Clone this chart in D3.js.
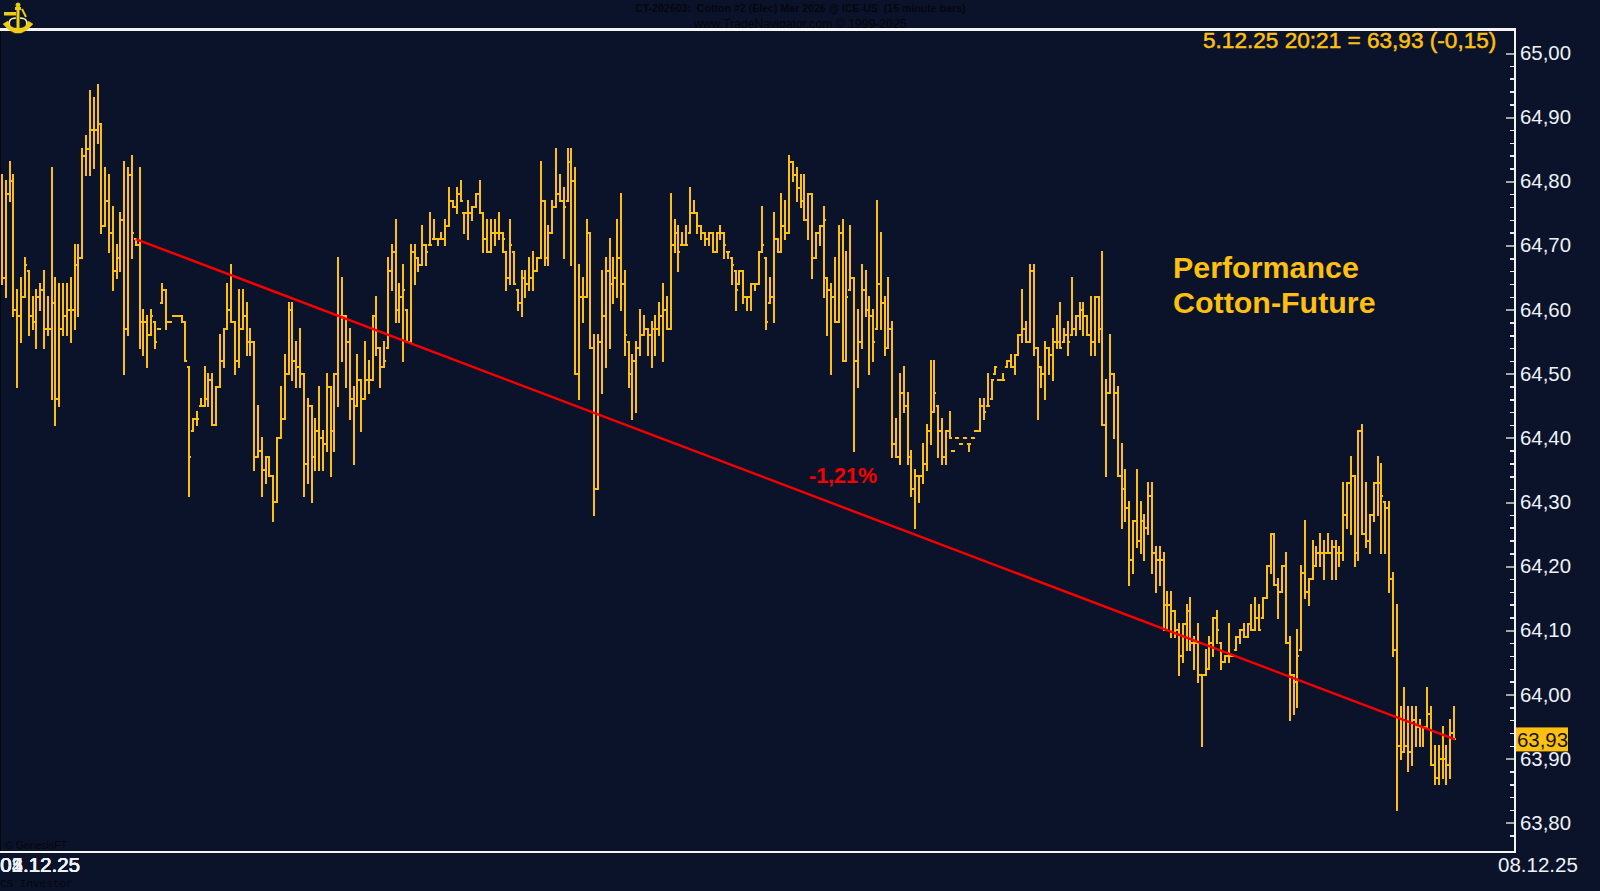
<!DOCTYPE html>
<html>
<head>
<meta charset="utf-8">
<title>Cotton-Future</title>
<script src="https://d3js.org/d3.v7.min.js"></script>
<style>
html, body { margin: 0; padding: 0; background: #0b132b; overflow: hidden; }
svg { display: block; font-family: "Liberation Sans", Arial, sans-serif; }
text { white-space: pre; }
</style>
</head>
<body>
<svg id="chart" width="1600" height="891"></svg>
<script>
/* 15 minute bars */
var highs = [
64.81,64.80,64.83,64.81,64.63,64.65,64.68,64.66,64.62,64.63,
64.64,64.66,64.62,64.82,64.65,64.64,64.64,64.64,64.65,64.70,
64.70,64.85,64.87,64.94,64.93,64.95,64.89,64.82,64.81,64.76,
64.70,64.75,64.83,64.82,64.84,64.71,64.82,64.60,64.59,64.60,
64.58,64.57,64.64,64.63,64.58,64.59,64.59,64.59,64.58,64.51,
64.43,64.44,64.46,64.51,64.50,64.50,64.48,64.56,64.57,64.64,
64.67,64.58,64.63,64.63,64.61,64.57,64.55,64.45,64.40,64.37,
64.37,64.34,64.40,64.48,64.53,64.61,64.61,64.55,64.57,64.50,
64.46,64.45,64.43,64.48,64.41,64.50,64.48,64.50,64.68,64.65,
64.59,64.57,64.48,64.53,64.49,64.55,64.52,64.59,64.62,64.54,
64.55,64.68,64.70,64.74,64.64,
64.67,64.60,64.70,64.70,64.68,
64.73,64.70,64.75,64.74,64.71,64.72,64.74,64.79,64.77,64.79,
64.80,64.75,64.77,64.76,64.78,64.80,64.75,64.74,64.74,64.74,
64.75,64.72,64.69,64.74,64.69,64.63,64.66,64.66,64.68,64.69,
64.68,64.83,64.77,64.73,64.77,64.85,64.81,64.79,64.85,64.85,
64.82,64.67,64.65,64.74,64.72,64.56,64.56,64.66,64.68,64.71,
64.68,64.74,64.78,64.66,64.55,64.53,64.55,64.60,64.59,64.57,
64.58,64.59,64.61,64.64,64.62,64.78,64.74,64.73,64.72,64.73,
64.79,64.77,64.75,64.73,64.72,64.72,64.72,64.72,64.73,64.72,
64.69,64.68,64.66,64.66,64.66,64.62,64.64,64.64,64.69,64.76,
64.68,64.65,64.75,64.71,64.78,64.77,64.84,64.83,64.82,64.81,
64.81,64.78,64.78,64.72,64.73,64.76,64.65,64.64,64.68,64.73,
64.74,64.69,64.73,64.65,64.60,64.67,64.66,64.62,64.60,64.77,
64.72,64.62,64.65,64.58,64.43,64.50,64.51,64.47,64.38,64.35,
64.34,64.39,64.42,64.52,64.52,64.45,64.43,64.41,64.44,64.38,
64.40,64.39,64.40,64.39,64.40,64.41,64.46,64.46,64.50,64.49,
64.51,64.49,64.50,64.52,64.53,64.53,64.56,64.63,64.58,64.67,
64.67,64.54,64.51,64.55,64.54,64.57,64.59,64.61,64.57,64.58,
64.65,64.59,64.61,64.61,64.59,64.62,64.62,64.62,64.69,64.49,
64.56,64.50,64.48,
64.39,64.35,64.30,64.27,64.35,64.30,64.28,
64.33,64.33,64.23,64.23,64.22,64.16,64.16,64.13,64.11,64.11,
64.14,64.15,64.09,64.11,64.03,64.07,64.09,64.12,64.13,64.08,
64.06,64.11,64.06,64.09,64.10,64.11,64.11,64.14,64.15,64.14,
64.15,64.20,64.25,64.25,64.18,64.20,64.22,64.09,64.03,64.10,
64.20,64.27,64.18,64.24,64.23,64.25,64.24,64.25,64.24,64.24,
64.23,64.33,64.33,64.37,64.34,64.41,64.42,64.33,64.28,64.33,
64.37,64.36,64.30,64.30,64.19,64.14,63.98,64.01,63.98,63.98,
63.98,63.96,63.95,64.01,63.98,63.92,63.92,63.95,63.92,63.96,
63.98
];
var lows = [
64.64,64.62,64.77,64.59,64.48,64.55,64.62,64.56,64.57,64.54,
64.60,64.54,64.56,64.46,64.42,64.45,64.56,64.56,64.55,64.57,
64.59,64.68,64.81,64.81,64.82,64.86,64.72,64.73,64.69,64.63,
64.65,64.66,64.50,64.56,64.68,64.70,64.54,64.53,64.51,64.56,
64.54,64.57,64.61,64.57,64.58,64.59,64.59,64.58,64.52,64.31,
64.41,64.42,64.45,64.45,64.45,64.42,64.42,64.48,64.51,64.57,
64.58,64.50,64.51,64.57,64.53,64.53,64.35,64.37,64.31,64.33,
64.34,64.27,64.30,64.40,64.43,64.50,64.49,64.48,64.48,64.31,
64.33,64.30,64.35,64.35,64.35,64.38,64.34,64.38,64.45,64.52,
64.48,64.43,64.36,64.45,64.41,64.46,64.47,64.49,64.53,64.48,
64.51,64.54,64.63,64.58,64.58,
64.52,64.55,64.55,64.64,64.66,
64.67,64.67,64.70,64.71,64.70,64.71,64.70,64.73,64.76,64.75,
64.77,64.72,64.71,64.74,64.76,64.75,64.69,64.69,64.69,64.70,
64.71,64.69,64.63,64.64,64.64,64.60,64.59,64.62,64.63,64.63,
64.66,64.68,64.67,64.67,64.72,64.76,64.77,64.68,64.77,64.67,
64.50,64.46,64.58,64.62,64.54,64.28,64.32,64.47,64.51,64.54,
64.61,64.62,64.60,64.53,64.48,64.43,64.44,64.53,64.56,64.53,
64.51,64.53,64.56,64.52,64.57,64.57,64.69,64.66,64.70,64.70,
64.72,64.75,64.72,64.71,64.70,64.70,64.69,64.69,64.71,64.68,
64.68,64.64,64.60,64.64,64.61,64.60,64.60,64.63,64.64,64.69,
64.57,64.61,64.58,64.69,64.69,64.71,64.72,64.80,64.77,64.76,
64.74,64.71,64.65,64.68,64.70,64.62,64.56,64.50,64.58,64.58,
64.52,64.52,64.63,64.38,64.48,64.54,64.59,64.50,64.52,64.57,
64.57,64.53,64.54,64.37,64.37,64.36,64.44,64.36,64.31,64.26,
64.30,64.33,64.35,64.39,64.44,64.37,64.36,64.36,64.40,64.38,
64.40,64.39,64.40,64.38,64.40,64.41,64.41,64.43,64.45,64.46,
64.50,64.49,64.49,64.51,64.51,64.50,64.53,64.55,64.55,64.55,
64.53,64.43,64.48,64.46,64.50,64.49,64.54,64.54,64.55,64.53,
64.56,64.56,64.57,64.56,64.56,64.53,64.53,64.55,64.42,64.34,
64.47,64.40,64.34,
64.26,64.27,64.17,64.19,64.23,64.22,64.21,
64.25,64.19,64.16,64.17,64.10,64.10,64.09,64.09,64.03,64.05,
64.07,64.07,64.04,64.02,63.92,64.03,64.04,64.06,64.08,64.04,
64.05,64.05,64.06,64.07,64.08,64.09,64.09,64.10,64.10,64.10,
64.12,64.15,64.19,64.17,64.12,64.16,64.08,63.96,63.97,63.98,
64.07,64.15,64.14,64.18,64.20,64.20,64.18,64.22,64.18,64.18,
64.20,64.21,64.26,64.25,64.20,64.21,64.25,64.23,64.22,64.27,
64.28,64.22,64.22,64.16,64.06,63.82,63.90,63.91,63.88,63.89,
63.92,63.92,63.92,63.95,63.89,63.86,63.86,63.87,63.86,63.87,
63.93
];
var closes = [
64.65,64.78,64.80,64.60,64.59,64.62,64.67,64.59,64.58,64.62,
64.63,64.57,64.57,64.61,64.46,64.57,64.59,64.60,64.60,64.67,
64.68,64.84,64.85,64.88,64.88,64.89,64.73,64.77,64.72,64.66,
64.68,64.74,64.57,64.81,64.72,64.70,64.58,64.58,64.56,64.59,
64.55,64.57,64.63,64.58,64.58,64.59,64.59,64.58,64.52,64.37,
64.43,64.43,64.45,64.46,64.49,64.42,64.48,64.52,64.57,64.60,
64.58,64.52,64.57,64.59,64.55,64.55,64.37,64.38,64.35,64.37,
64.34,64.30,64.40,64.43,64.50,64.60,64.52,64.51,64.50,64.36,
64.45,64.37,64.41,64.40,64.39,64.48,64.41,64.50,64.59,64.59,
64.55,64.46,64.45,64.49,64.46,64.49,64.49,64.59,64.54,64.51,
64.52,64.66,64.69,64.60,64.62,
64.63,64.55,64.69,64.68,64.67,
64.70,64.69,64.70,64.71,64.71,64.71,64.73,64.77,64.76,64.78,
64.77,64.75,64.75,64.76,64.78,64.75,64.71,64.69,64.72,64.72,
64.72,64.71,64.65,64.70,64.64,64.61,64.65,64.64,64.65,64.66,
64.68,64.77,64.68,64.72,64.76,64.78,64.77,64.76,64.83,64.80,
64.50,64.62,64.62,64.72,64.54,64.32,64.55,64.59,64.66,64.64,
64.65,64.68,64.64,64.56,64.50,64.52,64.54,64.56,64.57,64.56,
64.57,64.57,64.59,64.60,64.57,64.70,64.72,64.69,64.70,64.70,
64.75,64.75,64.73,64.72,64.71,64.72,64.69,64.72,64.72,64.70,
64.69,64.67,64.63,64.66,64.62,64.62,64.64,64.64,64.69,64.70,
64.58,64.62,64.71,64.69,64.73,64.72,64.83,64.81,64.79,64.77,
64.74,64.78,64.68,64.72,64.73,64.74,64.63,64.62,64.58,64.72,
64.52,64.62,64.65,64.52,64.55,64.63,64.60,64.59,64.55,64.64,
64.61,64.54,64.57,64.39,64.37,64.47,64.45,64.37,64.32,64.34,
64.34,64.36,64.41,64.44,64.47,64.41,64.37,64.41,64.40,64.38,
64.40,64.39,64.40,64.39,64.40,64.41,64.45,64.44,64.45,64.49,
64.51,64.49,64.49,64.52,64.51,64.53,64.56,64.57,64.55,64.66,
64.54,64.51,64.50,64.54,64.53,64.55,64.55,64.54,64.56,64.55,
64.57,64.59,64.60,64.59,64.56,64.55,64.62,64.57,64.42,64.47,
64.50,64.47,64.34,
64.32,64.29,64.21,64.27,64.24,64.27,64.26,
64.31,64.22,64.21,64.21,64.14,64.14,64.13,64.10,64.06,64.11,
64.13,64.08,64.08,64.03,64.03,64.04,64.08,64.12,64.10,64.05,
64.06,64.06,64.06,64.09,64.10,64.09,64.11,64.10,64.12,64.10,
64.15,64.20,64.25,64.17,64.16,64.20,64.08,64.03,64.02,64.06,
64.19,64.16,64.18,64.20,64.22,64.22,64.22,64.22,64.23,64.22,
64.22,64.28,64.33,64.34,64.22,64.41,64.25,64.24,64.28,64.33,
64.33,64.31,64.29,64.18,64.07,63.92,63.91,63.92,63.91,63.96,
63.95,63.95,63.95,63.97,63.89,63.87,63.90,63.90,63.89,63.94,
63.93
];

/* axis values */
var priceLabels = [65.00,64.90,64.80,64.70,64.60,64.50,64.40,64.30,64.20,64.10,64.00,63.90,63.80];
var minorTicks = [64.98,64.96,64.94,64.92,64.88,64.86,64.84,64.82,64.78,64.76,64.74,64.72,64.68,64.66,64.64,64.62,
    64.58,64.56,64.54,64.52,64.48,64.46,64.44,64.42,64.38,64.36,64.34,64.32,64.28,64.26,64.24,64.22,
    64.18,64.16,64.14,64.12,64.08,64.06,64.04,64.02,63.98,63.96,63.94,63.92,63.88,63.86,63.84,63.82,63.78];
var startDates = ["01.12.25", "02.12.25", "03.12.25", "04.12.25", "05.12.25"];
var endDate = "08.12.25";

/* trend line, bar index and price */
var trendBars = [35, 380];
var trendPrices = [64.71, 63.93];
var lastPrice = 63.93;

var amber = "#fdc010";
var red = "#f70000";
var darkText = "#05070f";
var white = "#eef2f8";

var svg = d3.select("#chart");
var x = d3.scaleLinear().domain([0, highs.length - 1]).range([2, 1454]);
var y = d3.scaleLinear().domain([65, 63.8]).range([53, 822.8]);
var comma = function(d){ return d.toFixed(2).replace(".", ","); };

/* the faint header and footer texts sit under the frame */
svg.append("text").attr("x", 635).attr("y", 12).attr("font-size", 10.6).attr("font-weight", "bold")
    .attr("fill", darkText).text("CT-202603:  Cotton #2 (Elec) Mar 2026 @ ICE-US  (15 minute bars)");
svg.append("text").attr("x", 694).attr("y", 28).attr("font-size", 12.2)
    .attr("fill", darkText).text("www.TradeNavigator.com \u00a9 1999-2025");
svg.append("text").attr("x", 5).attr("y", 849).attr("font-size", 10.5)
    .attr("fill", darkText).text("\u00a9 GenesisFT");
svg.append("text").attr("x", 0).attr("y", 887).attr("font-size", 11).attr("font-family", "Liberation Mono")
    .attr("fill", darkText).text("CS Investor");

/* bars: high-low stem, open tick to the left, close tick to the right */
var bars = svg.append("g").attr("shape-rendering", "crispEdges").attr("stroke", amber).attr("stroke-width", 2);
var barGroups = bars.selectAll("g").data(highs).enter().append("g")
    .attr("transform", function(d, i){ return "translate(" + Math.round(x(i)) + ",0)"; });
barGroups.append("line")
    .attr("y1", function(d){ return y(d) - 1; })
    .attr("y2", function(d, i){ return y(lows[i]) + 1; });
barGroups.append("line")
    .attr("x1", -2).attr("x2", 0)
    .attr("y1", function(d, i){ return y(openOf(i)); })
    .attr("y2", function(d, i){ return y(openOf(i)); });
barGroups.append("line")
    .attr("x1", 0).attr("x2", 2)
    .attr("y1", function(d, i){ return y(closes[i]); })
    .attr("y2", function(d, i){ return y(closes[i]); });

/* the open tick follows the previous close, kept inside the bar */
function openOf(i){
    var prev = i > 0 ? closes[i - 1] : closes[0];
    return Math.max(lows[i], Math.min(highs[i], prev));
}

/* trend line */
svg.append("line")
    .attr("x1", x(trendBars[0])).attr("y1", y(trendPrices[0]))
    .attr("x2", x(trendBars[1]) + 1).attr("y2", y(trendPrices[1]))
    .attr("stroke", red).attr("stroke-width", 2.4);

/* frame */
var frame = svg.append("g").attr("shape-rendering", "crispEdges");
frame.append("rect").attr("x", 0).attr("y", 28).attr("width", 1516).attr("height", 3).attr("fill", "#f4f4f4");
frame.append("rect").attr("x", 0).attr("y", 851).attr("width", 1516).attr("height", 2).attr("fill", "#f4f4f4");
frame.append("rect").attr("x", 1514).attr("y", 28).attr("width", 2).attr("height", 825).attr("fill", "#f4f4f4");
frame.append("rect").attr("x", 0).attr("y", 31).attr("width", 1).attr("height", 820).attr("fill", "#05070c");

/* price axis */
var minorAxis = svg.append("g").attr("transform", "translate(1514,0)")
    .call(d3.axisLeft(y).tickValues(minorTicks).tickSize(4).tickFormat(""));
var majorAxis = svg.append("g").attr("transform", "translate(1514,0)")
    .call(d3.axisLeft(y).tickValues(priceLabels).tickSize(8).tickFormat(""));
var labelAxis = svg.append("g").attr("transform", "translate(1516,0)")
    .call(d3.axisRight(y).tickValues(priceLabels).tickSize(0).tickPadding(4).tickFormat(comma));
minorAxis.select(".domain").remove();
majorAxis.select(".domain").remove();
labelAxis.select(".domain").remove();
minorAxis.selectAll("line").attr("stroke", "#e6e6e6").attr("stroke-width", 1.5).attr("shape-rendering", "crispEdges");
majorAxis.selectAll("line").attr("stroke", "#a6a6a6").attr("stroke-width", 2).attr("shape-rendering", "crispEdges");
labelAxis.selectAll("text").attr("fill", white).attr("font-size", 20.4).attr("font-family", "Liberation Sans");

/* last price box */
svg.append("rect").attr("x", 1516).attr("y", y(lastPrice) - 12).attr("width", 52).attr("height", 24)
    .attr("fill", amber);
svg.append("text").attr("x", 1517).attr("y", y(lastPrice) + 8).attr("font-size", 20.4)
    .attr("fill", "#14161c").text(comma(lastPrice));

/* dates: every day before the last one falls on the same spot */
svg.selectAll(".start-date").data(startDates).enter().append("text")
    .attr("class", "start-date")
    .attr("x", function(d, i){ return 0 + i * 0.1; })
    .attr("y", 872).attr("font-size", 20.5).attr("fill", white)
    .text(function(d){ return d; });
svg.append("text").attr("x", 1498).attr("y", 872).attr("font-size", 20.5).attr("fill", white).text(endDate);

/* annotations */
svg.append("text").attr("x", 1203).attr("y", 48).attr("font-size", 22.6)
    .attr("fill", amber).attr("stroke", amber).attr("stroke-width", 0.5)
    .text("5.12.25 20:21 = 63,93 (-0,15)");
svg.append("text").attr("x", 1173).attr("y", 278).attr("font-size", 30.4).attr("font-weight", "bold")
    .attr("fill", amber).text("Performance");
svg.append("text").attr("x", 1173).attr("y", 313).attr("font-size", 30.4).attr("font-weight", "bold")
    .attr("fill", amber).text("Cotton-Future");
svg.append("text").attr("x", 809).attr("y", 483).attr("font-size", 21.5).attr("font-weight", "bold")
    .attr("fill", red).text("-1,21%");

/* sextant and anchor logo, top left */
var logo = svg.append("g").attr("fill", "#f0cd14").attr("stroke", "#f0cd14");
logo.append("circle").attr("cx", 18).attr("cy", 5).attr("r", 2).attr("stroke-width", 1);
logo.append("rect").attr("x", 15).attr("y", 7).attr("width", 6).attr("height", 3).attr("stroke", "none");
logo.append("rect").attr("x", 16.5).attr("y", 9).attr("width", 3).attr("height", 24).attr("stroke", "none");
logo.append("rect").attr("x", 4).attr("y", 12).attr("width", 12).attr("height", 3.5).attr("stroke", "none");
logo.append("path").attr("d", "M22 9 L26 17").attr("fill", "none").attr("stroke-width", 2);
logo.append("path").attr("d", "M10 27 Q7 18 16 18 M20 18 Q29 18 26 27").attr("fill", "none").attr("stroke", "#fff3a0").attr("stroke-width", 1.5);
logo.append("path").attr("d", "M3 24 L8 21 L10 26 Q18 31 26 26 L28 21 L33 24 L27 30 L21 33 L15 33 L9 30 Z").attr("stroke-width", 0.5);
</script>
</body>
</html>
